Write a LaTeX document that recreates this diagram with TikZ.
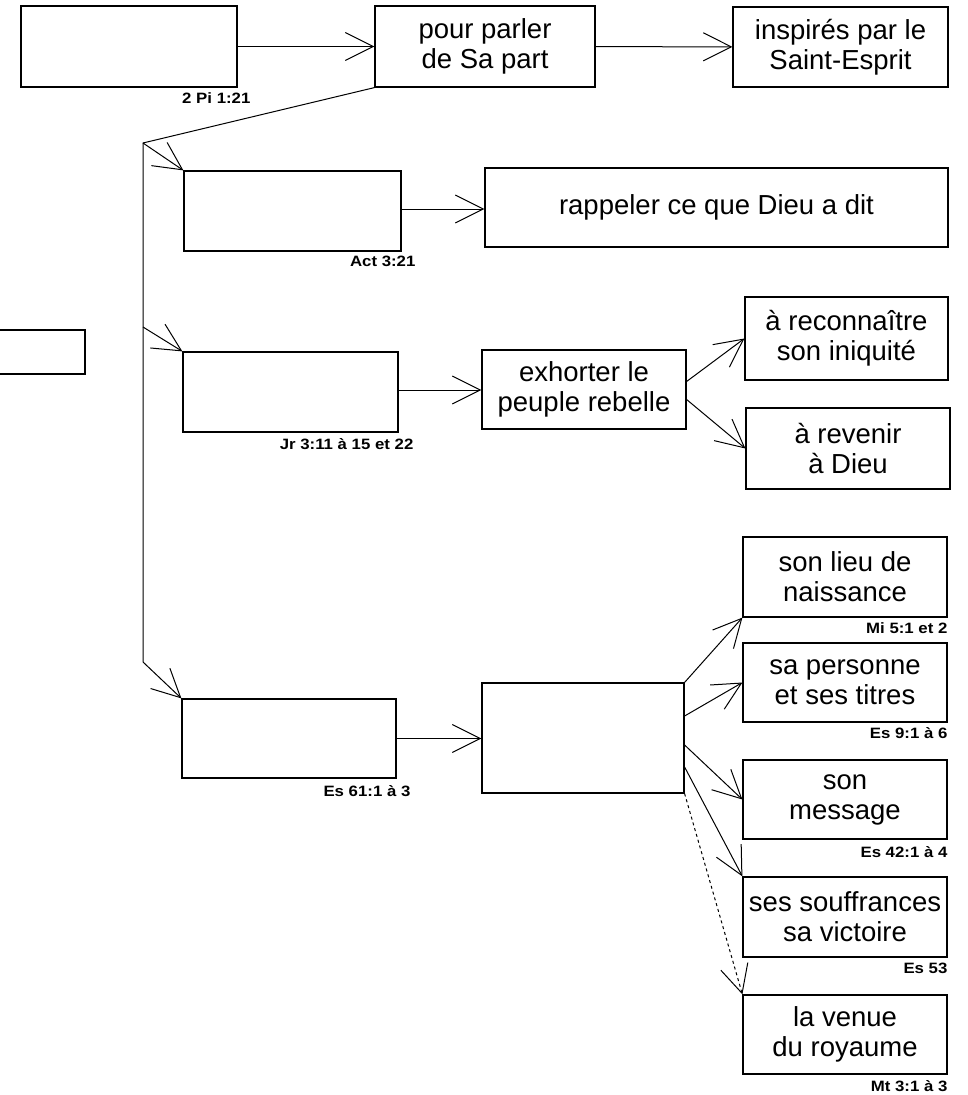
\documentclass[tikz,border=0pt]{standalone}
\usepackage{fontspec}
\setmainfont{Liberation Sans}
\newfontfamily\lblfont[FakeStretch=1.12]{Liberation Sans}
\usetikzlibrary{arrows.meta}
\tikzset{
  box/.style={draw, line width=1.2pt, inner sep=0pt, align=center, font=\fontsize{27.5}{30}\selectfont},
  lbl/.style={inner sep=0pt, anchor=east, font=\lblfont\bfseries\fontsize{15}{17}\selectfont},
  arr/.style={line width=1pt, -{Straight Barb[length=28pt,width=28pt,line width=1pt]}},
  ln/.style={line width=1pt}
}
\begin{document}
\begin{tikzpicture}[x=1pt,y=-1pt]
\useasboundingbox (0,0) rectangle (967,1095);
\clip (0,0) rectangle (967,1095);
% boxes
\node[box, minimum width=216pt, minimum height=81pt] (A) at (129,46.5) {};
\node[box, minimum width=220pt, minimum height=81pt] (B) at (485,46.5) {pour parler\\de Sa part};
\node[box, minimum width=215pt, minimum height=80pt] (C) at (840.5,47) {inspirés par le\\Saint-Esprit};
\node[box, minimum width=217pt, minimum height=80pt] (D) at (292.5,211) {};
\node[box, minimum width=463pt, minimum height=79pt] (E) at (716.5,207.5) {rappeler ce que Dieu a dit};
\node[box, minimum width=90pt, minimum height=44pt] (F) at (40,352) {};
\node[box, minimum width=215pt, minimum height=80pt] (G) at (290.5,392) {};
\node[box, minimum width=204pt, minimum height=79pt] (H) at (584,389.5) {exhorter le\\peuple rebelle};
\node[box, minimum width=203pt, minimum height=83pt] (I) at (846.5,338.5) {à reconnaître\\son iniquité};
\node[box, minimum width=204pt, minimum height=81pt] (J) at (848,448.5) {à revenir\\à Dieu};
\node[box, minimum width=204pt, minimum height=80pt] (K) at (845,577) {son lieu de\\naissance};
\node[box, minimum width=214pt, minimum height=79pt] (L) at (289,738.5) {};
\node[box, minimum width=202pt, minimum height=110pt] (M) at (583,738) {};
\node[box, minimum width=204pt, minimum height=79pt] (N) at (845,682.5) {sa personne\\et ses titres};
\node[box, minimum width=204pt, minimum height=79pt] (O) at (845,799.5) {son\\message};
\node[box, minimum width=204pt, minimum height=80pt] (P) at (845,917) {ses souffrances\\sa victoire};
\node[box, minimum width=204pt, minimum height=79pt] (Q) at (845,1034.5) {la venue\\du royaume};
% reference labels
\node[lbl] (lA) at ([xshift=13pt,yshift=-10pt]A.south east) {2 Pi 1:21};
\node[lbl] (lD) at ([xshift=14pt,yshift=-10pt]D.south east) {Act 3:21};
\node[lbl] (lG) at ([xshift=15pt,yshift=-11pt]G.south east) {Jr 3:11 à 15 et 22};
\node[lbl] (lL) at ([xshift=14pt,yshift=-12pt]L.south east) {Es 61:1 à 3};
\node[lbl] (lK) at ([yshift=-11pt]K.south east) {Mi 5:1 et 2};
\node[lbl] (lN) at ([yshift=-10pt]N.south east) {Es 9:1 à 6};
\node[lbl] (lO) at ([yshift=-12pt]O.south east) {Es 42:1 à 4};
\node[lbl] (lP) at ([yshift=-11pt]P.south east) {Es 53};
\node[lbl] (lQ) at ([yshift=-11pt]Q.south east) {Mt 3:1 à 3};
% trunk
\coordinate (T1) at (143,143);
\coordinate (T2) at (143,327);
\coordinate (T3) at (143,662);
\draw[ln] (B.south west) -- (T1) -- (T3);
% connectors
\draw[arr] (A) -- (B);
\draw[arr] (B) -- (C);
\draw[arr] (T1) -- (D.north west);
\draw[arr] (T2) -- (G.north west);
\draw[arr] (T3) -- (L.north west);
\draw[arr] ([yshift=2pt]D.east) -- ([yshift=2pt]D.east -| E.west);
\draw[arr] ([yshift=2pt]G.east) -- ([yshift=2pt]G.east -| H.west);
\draw[arr] (L.east) -- (L.east -| M.west);
\draw[arr] ([yshift=8pt]H.east) -- (I.west);
\draw[arr] ([yshift=-10pt]H.east) -- (J.west);
\draw[arr] (M.north east) -- (K.south west);
\draw[arr] ([yshift=22pt]M.east) -- (N.west);
\draw[arr] ([yshift=-7pt]M.east) -- (O.west);
\draw[arr] ([yshift=-29pt]M.east) -- (P.north west);
\draw[arr, dashed] (M.south east) -- (Q.north west);
\end{tikzpicture}
\end{document}
